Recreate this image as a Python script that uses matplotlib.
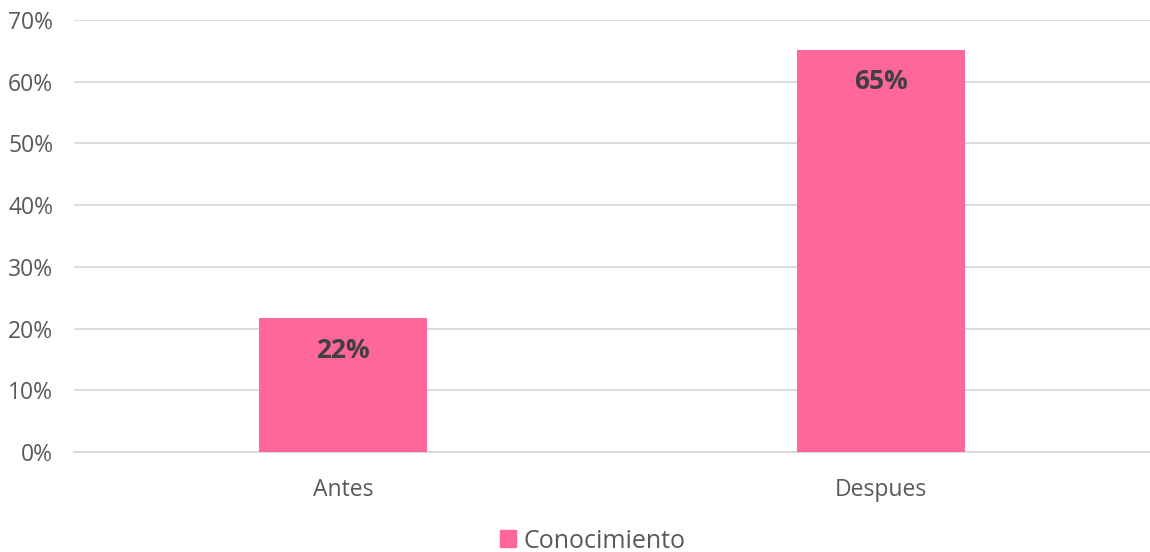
import matplotlib
matplotlib.use("Agg")
import matplotlib.pyplot as plt
from matplotlib.ticker import PercentFormatter
from matplotlib.patches import Patch

categories = ["Antes", "Despues"]
conocimiento = [0.217, 0.652]
labels = ["22%", "65%"]
yticks = [0, 0.1, 0.2, 0.3, 0.4, 0.5, 0.6, 0.7]

pink = "#FF6699"
gray = "#595959"

plt.rcParams['font.family'] = ['Open Sans', 'DejaVu Sans']

fig = plt.figure(figsize=(11.5, 5.52), dpi=100)
ax = fig.add_axes([74/1150, 100/552, 1076/1150, 432/552])

x = range(len(categories))
bars = ax.bar(x, conocimiento, width=0.314, color=pink, zorder=3)
for b, lab in zip(bars, labels):
    ax.annotate(lab, (b.get_x() + b.get_width()/2, b.get_height()),
                xytext=(0, -23), textcoords="offset points",
                ha="center", va="center", fontsize=19, fontweight="bold", color="#404040")

ax.set_xlim(-0.5, 1.5)
ax.set_ylim(0, 0.7)
ax.set_yticks(yticks)
ax.yaxis.set_major_formatter(PercentFormatter(1.0, decimals=0))
ax.set_xticks(list(x))
ax.set_xticklabels(categories)
ax.tick_params(axis="both", length=0, labelsize=16.5, colors=gray)
ax.tick_params(axis="x", pad=18.5)
ax.tick_params(axis="y", pad=15)
ax.grid(axis="y", color="#D9D9D9", linewidth=1.3, zorder=0)
for s in ["top", "right", "left"]:
    ax.spines[s].set_visible(False)
ax.spines["bottom"].set_color("#D9D9D9")
ax.spines["bottom"].set_linewidth(1.3)

fig.legend(handles=[Patch(color=pink, label="Conocimiento")], loc="center",
           bbox_to_anchor=(593/1150, 1 - 541/552), frameon=False, fontsize=18,
           handlelength=0.65, handleheight=0.65, handletextpad=0.3, labelcolor=gray)

fig.savefig("out.png", dpi=100)
